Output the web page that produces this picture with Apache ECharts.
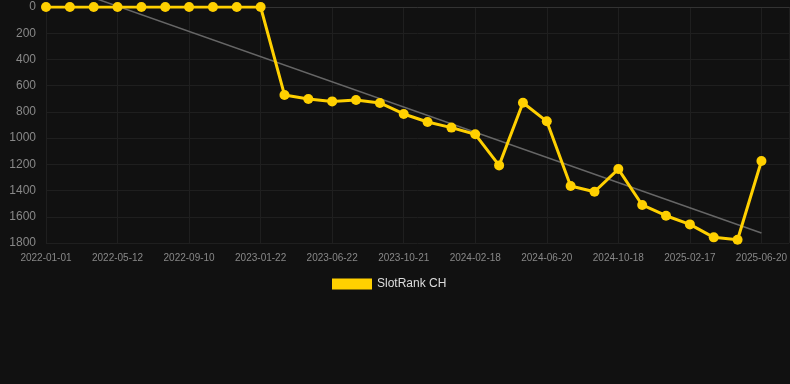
<!DOCTYPE html>
<html>
<head>
<meta charset="utf-8">
<script src="https://cdn.jsdelivr.net/npm/echarts@6/dist/echarts.min.js"></script>
<style>
html, body { margin: 0; padding: 0; background: #111111; }
#main { width: 790px; height: 384px; }
</style>
</head>
<body>
<div id="main"></div>
<script>
var dates = ['2022-01-01', '2022-02-13', '2022-03-28', '2022-05-12', '2022-06-21', '2022-07-31',
	'2022-09-10', '2022-10-25', '2022-12-08', '2023-01-22', '2023-03-12', '2023-05-02',
	'2023-06-22', '2023-08-01', '2023-09-10', '2023-10-21', '2023-11-30', '2024-01-09',
	'2024-02-18', '2024-03-30', '2024-05-10', '2024-06-20', '2024-07-30', '2024-09-08',
	'2024-10-18', '2024-11-27', '2025-01-08', '2025-02-17', '2025-03-30', '2025-05-10',
	'2025-06-20'];
var ranks = [0, 0, 0, 0, 0, 0, 0, 0, 0, 0,
	671, 702, 720, 709, 732, 816, 877, 920, 971, 1208,
	730, 872, 1365, 1409, 1236, 1510, 1592, 1658, 1757, 1775,
	1175];
// trend line ends
var trendStart = -198;
var trendEnd = 1724;
var yTicks = [0, 1800, 200];

var chart = echarts.init(document.getElementById('main'));

var rankData = ranks.map(function (v, i) { return [i, v]; });
var trendData = [[0, trendStart], [dates.length - 1, trendEnd]];

chart.setOption({
	animation: false,
	backgroundColor: '#111111',
	textStyle: { fontFamily: 'Arial, Liberation Sans, sans-serif' },
	grid: { left: 46, right: 0, top: 7, bottom: 141 },
	legend: {
		left: 327,
		top: 273,
		itemWidth: 40,
		itemHeight: 11,
		icon: 'rect',
		itemGap: 10,
		data: ['SlotRank CH'],
		textStyle: { color: '#dddddd', fontSize: 12 }
	},
	xAxis: {
		type: 'value',
		min: 0,
		max: 31.17,
		interval: 3,
		axisLine: { show: true, lineStyle: { color: '#333333' } },
		axisTick: { show: false },
		splitLine: { show: true, lineStyle: { color: '#1f1f1f' } },
		axisLabel: {
			color: '#888888',
			fontSize: 10,
			margin: 10,
			showMaxLabel: false,
			formatter: function (v) {
				return Number.isInteger(v) && dates[v] ? dates[v] : '';
			}
		}
	},
	yAxis: {
		type: 'value',
		inverse: true,
		min: yTicks[0],
		max: yTicks[1],
		interval: yTicks[2],
		axisLine: { show: false },
		axisTick: { show: false },
		splitLine: { show: true, lineStyle: { color: '#1f1f1f' } },
		axisLabel: {
			color: '#888888',
			fontSize: 12,
			margin: 10,
			formatter: function (v) { return String(v); }
		}
	},
	series: [{
		name: 'Trend',
		type: 'line',
		data: trendData,
		clip: false,
		symbol: 'none',
		z: 1,
		lineStyle: { color: '#666666', width: 1.5 },
		silent: true
	}, {
		name: 'SlotRank CH',
		type: 'line',
		data: rankData,
		z: 3,
		symbol: 'circle',
		symbolSize: 10,
		itemStyle: { color: '#ffd000' },
		lineStyle: { color: '#ffd000', width: 3 }
	}]
});
</script>
</body>
</html>
